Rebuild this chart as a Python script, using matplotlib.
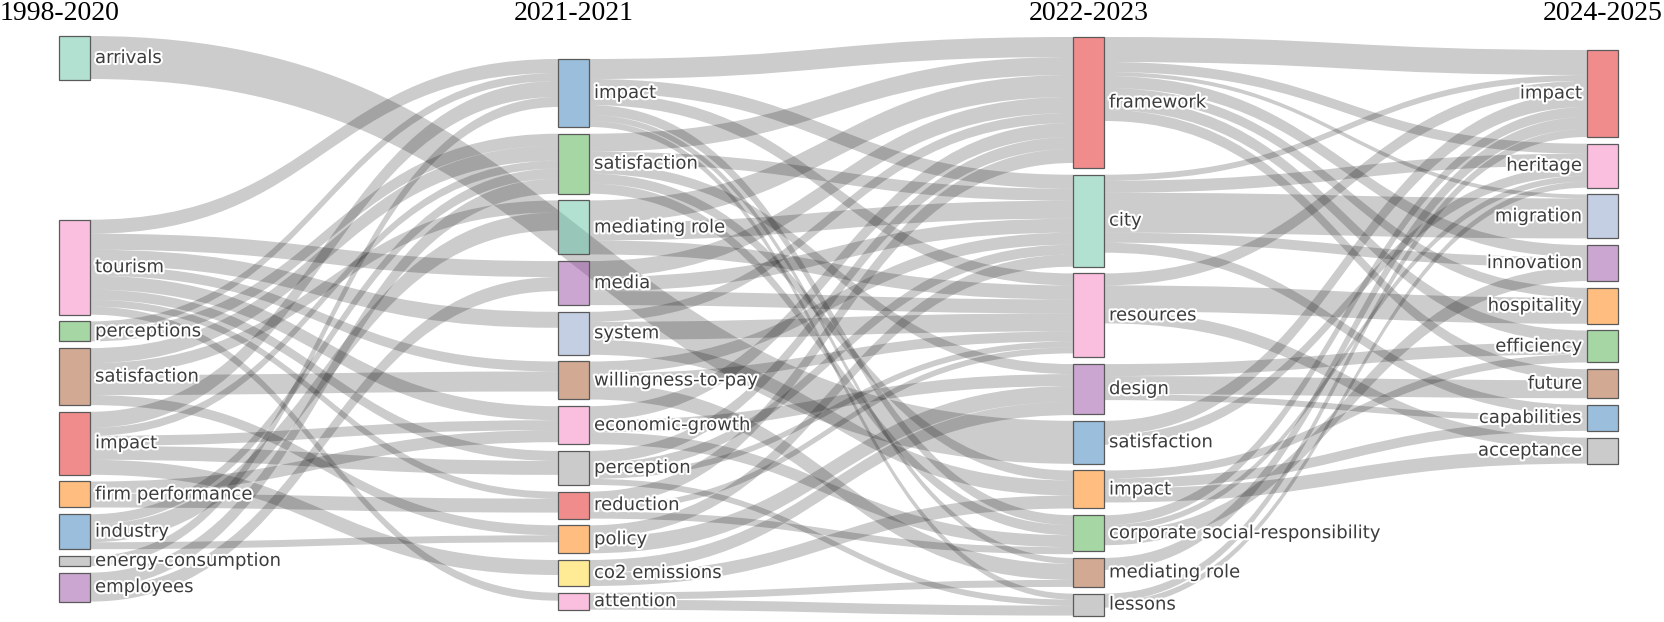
import matplotlib
matplotlib.use('Agg')
import matplotlib.pyplot as plt
from matplotlib.path import Path
from matplotlib.patches import PathPatch, Rectangle
import matplotlib.patheffects as pe

periods = ['1998-2020', '2021-2021', '2022-2023', '2024-2025']

themes_1 = ['arrivals', 'tourism', 'perceptions', 'satisfaction', 'impact',
            'firm performance', 'industry', 'energy-consumption', 'employees']
weights_1 = [44, 95, 20, 57, 63, 26, 35, 10, 29]

themes_2 = ['impact', 'satisfaction', 'mediating role', 'media', 'system',
            'willingness-to-pay', 'economic-growth', 'perception', 'reduction',
            'policy', 'co2 emissions', 'attention']
weights_2 = [68, 60, 54, 44, 43, 38, 38, 34, 27, 28, 26, 17]

themes_3 = ['framework', 'city', 'resources', 'design', 'satisfaction', 'impact',
            'corporate social-responsibility', 'mediating role', 'lessons']
weights_3 = [131, 92, 84, 50, 43, 38, 36, 29, 22]

themes_4 = ['impact', 'heritage', 'migration', 'innovation', 'hospitality',
            'efficiency', 'future', 'capabilities', 'acceptance']
weights_4 = [87, 44, 44, 36, 36, 32, 29, 26, 26]

# (from period, theme, to period, theme, weight)
links = [
    (0, 'arrivals', 2, 'satisfaction', 43),
    (0, 'tourism', 1, 'impact', 14),
    (0, 'tourism', 1, 'media', 16),
    (0, 'tourism', 1, 'system', 16),
    (0, 'tourism', 1, 'willingness-to-pay', 10),
    (0, 'tourism', 1, 'economic-growth', 14),
    (0, 'tourism', 1, 'perception', 10),
    (0, 'tourism', 1, 'reduction', 7),
    (0, 'tourism', 1, 'attention', 8),
    (0, 'perceptions', 1, 'impact', 8),
    (0, 'perceptions', 1, 'satisfaction', 12),
    (0, 'satisfaction', 1, 'satisfaction', 15),
    (0, 'satisfaction', 1, 'mediating role', 12),
    (0, 'satisfaction', 1, 'willingness-to-pay', 20),
    (0, 'satisfaction', 1, 'policy', 10),
    (0, 'impact', 1, 'impact', 16),
    (0, 'impact', 1, 'satisfaction', 8),
    (0, 'impact', 1, 'economic-growth', 10),
    (0, 'impact', 1, 'perception', 14),
    (0, 'impact', 1, 'co2 emissions', 15),
    (0, 'firm performance', 1, 'economic-growth', 12),
    (0, 'firm performance', 1, 'reduction', 14),
    (0, 'industry', 1, 'satisfaction', 10),
    (0, 'industry', 1, 'mediating role', 18),
    (0, 'industry', 1, 'policy', 7),
    (0, 'energy-consumption', 1, 'impact', 10),
    (0, 'employees', 1, 'satisfaction', 15),
    (0, 'employees', 1, 'media', 14),

    (1, 'impact', 2, 'framework', 20),
    (1, 'impact', 2, 'city', 14),
    (1, 'impact', 2, 'resources', 12),
    (1, 'impact', 2, 'corporate social-responsibility', 10),
    (1, 'impact', 2, 'mediating role', 6),
    (1, 'impact', 2, 'lessons', 6),
    (1, 'satisfaction', 2, 'framework', 18),
    (1, 'satisfaction', 2, 'city', 12),
    (1, 'satisfaction', 2, 'design', 10),
    (1, 'satisfaction', 2, 'impact', 10),
    (1, 'satisfaction', 2, 'corporate social-responsibility', 10),
    (1, 'mediating role', 2, 'framework', 22),
    (1, 'mediating role', 2, 'city', 18),
    (1, 'mediating role', 2, 'resources', 14),
    (1, 'media', 2, 'framework', 16),
    (1, 'media', 2, 'city', 14),
    (1, 'media', 2, 'resources', 14),
    (1, 'system', 2, 'framework', 10),
    (1, 'system', 2, 'resources', 18),
    (1, 'system', 2, 'impact', 15),
    (1, 'willingness-to-pay', 2, 'city', 12),
    (1, 'willingness-to-pay', 2, 'resources', 10),
    (1, 'willingness-to-pay', 2, 'mediating role', 16),
    (1, 'economic-growth', 2, 'framework', 14),
    (1, 'economic-growth', 2, 'design', 12),
    (1, 'economic-growth', 2, 'corporate social-responsibility', 12),
    (1, 'perception', 2, 'framework', 12),
    (1, 'perception', 2, 'city', 10),
    (1, 'perception', 2, 'resources', 6),
    (1, 'perception', 2, 'lessons', 6),
    (1, 'reduction', 2, 'framework', 14),
    (1, 'reduction', 2, 'resources', 6),
    (1, 'reduction', 2, 'corporate social-responsibility', 7),
    (1, 'policy', 2, 'city', 12),
    (1, 'policy', 2, 'design', 16),
    (1, 'co2 emissions', 2, 'design', 13),
    (1, 'co2 emissions', 2, 'impact', 13),
    (1, 'attention', 2, 'mediating role', 7),
    (1, 'attention', 2, 'lessons', 10),

    (2, 'framework', 3, 'impact', 25),
    (2, 'framework', 3, 'heritage', 10),
    (2, 'framework', 3, 'migration', 4),
    (2, 'framework', 3, 'innovation', 12),
    (2, 'framework', 3, 'hospitality', 10),
    (2, 'framework', 3, 'efficiency', 12),
    (2, 'framework', 3, 'future', 11),
    (2, 'city', 3, 'impact', 6),
    (2, 'city', 3, 'heritage', 12),
    (2, 'city', 3, 'migration', 40),
    (2, 'city', 3, 'innovation', 10),
    (2, 'city', 3, 'capabilities', 10),
    (2, 'resources', 3, 'impact', 12),
    (2, 'resources', 3, 'hospitality', 26),
    (2, 'resources', 3, 'acceptance', 12),
    (2, 'design', 3, 'efficiency', 12),
    (2, 'design', 3, 'future', 18),
    (2, 'design', 3, 'capabilities', 6),
    (2, 'satisfaction', 3, 'impact', 14),
    (2, 'satisfaction', 3, 'heritage', 10),
    (2, 'impact', 3, 'efficiency', 8),
    (2, 'impact', 3, 'capabilities', 10),
    (2, 'impact', 3, 'acceptance', 14),
    (2, 'corporate social-responsibility', 3, 'impact', 10),
    (2, 'corporate social-responsibility', 3, 'heritage', 6),
    (2, 'corporate social-responsibility', 3, 'innovation', 14),
    (2, 'mediating role', 3, 'impact', 12),
    (2, 'lessons', 3, 'impact', 8),
    (2, 'lessons', 3, 'heritage', 6),
]

# colours (Set1 / Set2 hues, shown at half opacity)
colors_1 = ['#66C2A5', '#F781BF', '#4DAF4A', '#A65628', '#E41A1C', '#FF7F00',
            '#377EB8', '#999999', '#984EA3']
colors_2 = ['#377EB8', '#4DAF4A', '#66C2A5', '#984EA3', '#8DA0CB', '#A65628',
            '#F781BF', '#999999', '#E41A1C', '#FF7F00', '#FFD92F', '#F781BF']
colors_3 = ['#E41A1C', '#66C2A5', '#F781BF', '#984EA3', '#377EB8', '#FF7F00',
            '#4DAF4A', '#A65628', '#999999']
colors_4 = ['#E41A1C', '#F781BF', '#8DA0CB', '#984EA3', '#FF7F00', '#4DAF4A',
            '#A65628', '#377EB8', '#999999']

columns = [(themes_1, weights_1, colors_1), (themes_2, weights_2, colors_2),
           (themes_3, weights_3, colors_3), (themes_4, weights_4, colors_4)]

# layout (pixel space of the 1665x622 canvas)
col_x = [59, 558, 1073, 1587]
node_w = 31
col_top = [36, 59, 37, 50]
node_gap = 6.7
extra_gap = {(0, 'tourism'): 133}

fig = plt.figure(figsize=(16.65, 6.22), dpi=100)
ax = fig.add_axes([0, 0, 1, 1])
ax.set_xlim(0, 1665)
ax.set_ylim(622, 0)
ax.axis('off')

# place nodes
nodes = {}
for c, (names, weights, cols) in enumerate(columns):
    y = col_top[c]
    for n, w, col in zip(names, weights, cols):
        y += extra_gap.get((c, n), 0)
        nodes[(c, n)] = (y, w, col)
        y += w + node_gap

# stack links at both ends, ordered by the position of the other end
src_pos = {}
dst_pos = {}
for key in nodes:
    outs = [i for i, l in enumerate(links) if (l[0], l[1]) == key]
    outs.sort(key=lambda i: nodes[(links[i][2], links[i][3])][0])
    off = nodes[key][0]
    for i in outs:
        src_pos[i] = off
        off += links[i][4]
    ins = [i for i, l in enumerate(links) if (l[2], l[3]) == key]
    ins.sort(key=lambda i: nodes[(links[i][0], links[i][1])][0])
    off = nodes[key][0]
    for i in ins:
        dst_pos[i] = off
        off += links[i][4]

M, C, L, Z = Path.MOVETO, Path.CURVE4, Path.LINETO, Path.CLOSEPOLY
for i, (c0, n0, c1, n1, v) in enumerate(links):
    x0 = col_x[c0] + node_w
    x1 = col_x[c1]
    xm = (x0 + x1) / 2
    ya, yb = src_pos[i], dst_pos[i]
    verts = [(x0, ya), (xm, ya), (xm, yb), (x1, yb),
             (x1, yb + v), (xm, yb + v), (xm, ya + v), (x0, ya + v), (x0, ya)]
    codes = [M, C, C, C, L, C, C, C, Z]
    ax.add_patch(PathPatch(Path(verts, codes), facecolor=(0, 0, 0, 0.2),
                           edgecolor='none', zorder=1))

halo = [pe.withStroke(linewidth=3, foreground='white')]
for (c, n), (y, w, col) in nodes.items():
    fc = matplotlib.colors.to_rgba(col, 0.5)
    ax.add_patch(Rectangle((col_x[c], y), node_w, w, facecolor=fc,
                           edgecolor='#5a5a5a', linewidth=0.9, zorder=2))
    if c < 3:
        ax.text(col_x[c] + node_w + 5, y + w / 2, n, ha='left', va='center',
                fontsize=13, color='#3c3c3c', path_effects=halo, zorder=3)
    else:
        ax.text(col_x[c] - 5, y + w / 2, n, ha='right', va='center',
                fontsize=13, color='#3c3c3c', path_effects=halo, zorder=3)

for c, p in enumerate(periods):
    if c == 0:
        ax.text(0, 14, p, ha='left', va='center', fontsize=20,
                family='Liberation Serif', color='black')
    else:
        ax.text(col_x[c] + node_w / 2, 14, p, ha='center', va='center',
                fontsize=20, family='Liberation Serif', color='black')

fig.savefig('out.png', dpi=100)
